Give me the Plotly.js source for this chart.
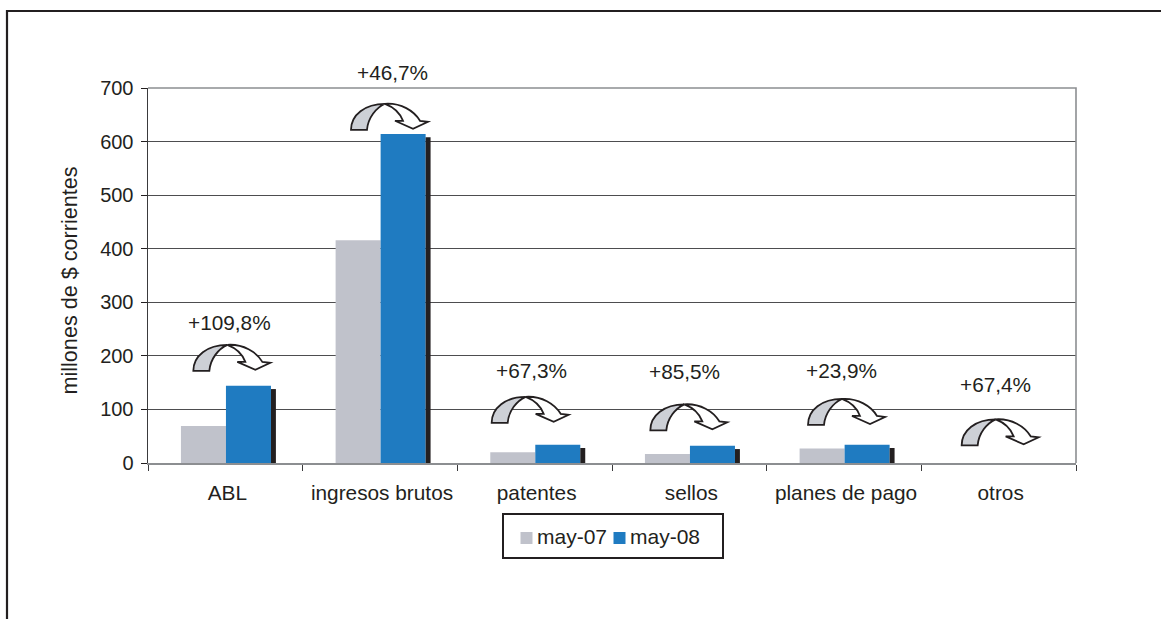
<!DOCTYPE html>
<html><head><meta charset="utf-8">
<script src="https://cdn.plot.ly/plotly-3.0.1.min.js"></script>
<style>html,body{margin:0;padding:0;background:#fff}#c{width:1161px;height:619px}</style>
</head><body><div id="c"></div>
<script>
const categories = ["ABL","ingresos brutos","patentes","sellos","planes de pago","otros"];
const may07 = [69,416,20,17,27,0];
const may08 = [144,614,34,32,34,0];
const shadowTop = [138,608,28,26,28,null];
const changeLabels = ["+109,8%","+46,7%","+67,3%","+85,5%","+23,9%","+67,4%"];
const labelY = [263,728,173,170,173,147];
const labelShift = [4,12,-3,-5,-3,-3];
const arrowY = [172,622,75,61,71,33];
const arrowShift = [-32,-29,-43,-39,-36,-37];
const yTicks = [0,100,200,300,400,500,600,700];
const categoryEdges = [-0.5,0.5,1.5,2.5,3.5,4.5,5.5];

const W=1161,H=619,mL=148,mR=85,mT=88,mB=156;
const pw=W-mL-mR,ph=H-mT-mB;
const px=v=>(v-mL)/pw, py=v=>1-(v-mT)/ph;
const barW=0.291, nudge=0.004;
const textCol="#231f20";
const idx=categories.map((_,i)=>i);
const shadowBase=-5, lineBase=-3;

const traces=[
 {type:"bar",name:"may-07",x:idx,y:may07,offset:-barW+nudge,width:barW,marker:{color:"#c0c2cb",line:{width:0}},hoverinfo:"skip",cliponaxis:false},
 {type:"bar",name:"may-08",x:idx,y:may08,offset:nudge,width:barW,marker:{color:"#1f7bc1",line:{width:0}},hoverinfo:"skip",cliponaxis:false},
 {type:"bar",name:"sombra",x:idx,y:shadowTop.map(v=>v===null?null:v-shadowBase),base:shadowBase,offset:barW+nudge,width:0.032,marker:{color:textCol,line:{width:0}},showlegend:false,hoverinfo:"skip",cliponaxis:false},
 {type:"bar",name:"base",x:idx,y:shadowTop.map(v=>v===null?null:2),base:lineBase,offset:-barW+nudge+0.02,width:2*barW-0.02,marker:{color:textCol,line:{width:0}},showlegend:false,hoverinfo:"skip",cliponaxis:false}
];

function arrowPaths(dx){
 const p=(a,b)=>(a+dx)+","+(-b);
 return {
  gray:`M${p(0,0)} C${p(0,-15)} ${p(14,-26)} ${p(34,-26)} C${p(25,-22)} ${p(17,-12)} ${p(16,0)} Z`,
  white:`M${p(34,-26)} C${p(50,-27)} ${p(63,-19)} ${p(69,-9)} L${p(77,-8)} L${p(62,-1)} L${p(44,-9)} L${p(52,-9)} C${p(49,-17)} ${p(42,-23)} ${p(34,-26)} Z`
 };
}
const shapes=[];
categories.forEach((c,i)=>{
 const a=arrowPaths(arrowShift[i]);
 [[a.gray,"#cdd0d6"],[a.white,"#ffffff"]].forEach(([path,fill])=>{
  shapes.push({type:"path",layer:"above",xref:"x",yref:"y",xsizemode:"pixel",ysizemode:"pixel",xanchor:i,yanchor:arrowY[i],path:path,fillcolor:fill,line:{color:textCol,width:1.8}});
 });
});
// outer frame: left and top edges only
shapes.push({type:"path",xref:"paper",yref:"paper",
 path:`M${px(7)},${py(625)} L${px(7)},${py(11)} L${px(1168)},${py(11)}`,
 line:{color:textCol,width:2.2},fillcolor:"rgba(0,0,0,0)"});
// top and right edges of the plot, lighter than the gridlines
shapes.push({type:"path",xref:"paper",yref:"paper",path:"M0,1 L1,1 L1,0",line:{color:"#8c8e91",width:1.6},fillcolor:"rgba(0,0,0,0)"});

const fs=20;
const annotations=categories.map((c,i)=>({x:i,y:labelY[i]/700,xref:"x",yref:"paper",xshift:labelShift[i]+0.2,text:changeLabels[i],showarrow:false,font:{family:"Liberation Sans, Arial, sans-serif",size:20.8,color:textCol},xanchor:"center",yanchor:"middle"}));

const layout={
 width:W,height:H,margin:{l:mL,r:mR,t:mT,b:mB,pad:0},paper_bgcolor:"#fff",plot_bgcolor:"#fff",
 font:{family:"Liberation Sans, Arial, sans-serif",size:fs,color:textCol},
 barmode:"overlay",showlegend:true,
 xaxis:{type:"linear",range:[-0.5,5.5],tickmode:"array",tickvals:idx,ticktext:categories,ticks:"outside",ticklen:0,ticklabelstandoff:11,ticklabelshift:2,
   minor:{tickmode:"array",tickvals:categoryEdges,ticks:"outside",ticklen:6,tickwidth:1,tickcolor:"#3a3a3c",showgrid:false},
   showgrid:false,zeroline:false,showline:true,linecolor:"#8c8e91",linewidth:1.5,tickfont:{size:20.8,color:textCol},automargin:false},
 yaxis:{range:[0,700],tickmode:"array",tickvals:yTicks,ticktext:yTicks.map(String),ticks:"outside",ticklen:6,tickwidth:1,tickcolor:textCol,ticklabelstandoff:3,showgrid:true,gridcolor:"#4d4d4f",gridwidth:1.2,zeroline:false,showline:true,linecolor:"#3a3a3c",linewidth:1.5,tickfont:{size:fs,color:textCol},
  title:{text:"millones de $ corrientes",font:{size:21.6,color:textCol},standoff:14},automargin:false},
 legend:{orientation:"h",xref:"paper",yref:"paper",x:px(502),y:py(513),xanchor:"left",yanchor:"top",bordercolor:textCol,borderwidth:1.5,bgcolor:"#fff",font:{size:21,color:textCol},itemclick:false,itemdoubleclick:false,traceorder:"normal"},
 shapes:shapes,annotations:annotations
};
Plotly.newPlot("c",traces,layout,{displayModeBar:false,staticPlot:true}).then(gd=>{
 // tighten the native legend to the reference's compact layout
 const lg=gd.querySelector(".legend");
 const bg=lg.querySelector(".bg");
 bg.setAttribute("width",220);bg.setAttribute("height",44);
 const sb=lg.querySelector(".scrollbox");
 sb.removeAttribute("clip-path");sb.setAttribute("transform","translate(0,0)");
 const sw=[4.5,97.5], tx=[35,128];
 lg.querySelectorAll(".traces").forEach((t,i)=>{
  t.setAttribute("transform","translate(0,25)");
  const pts=t.querySelector(".legendpoints");
  pts.setAttribute("transform",`translate(${sw[i]},0)`);
  const txt=t.querySelector(".legendtext");
  txt.setAttribute("x",tx[i]);
  txt.setAttribute("transform","translate(0,-2)");
  txt.querySelectorAll("tspan").forEach(s=>s.setAttribute("x",tx[i]));
 });
 // the y title sits slightly lower and further left than the plot centre
 const yt=gd.querySelector(".ytitle");
 if(yt) yt.setAttribute("transform","translate(-2,5) "+(yt.getAttribute("transform")||""));
});
</script></body></html>
